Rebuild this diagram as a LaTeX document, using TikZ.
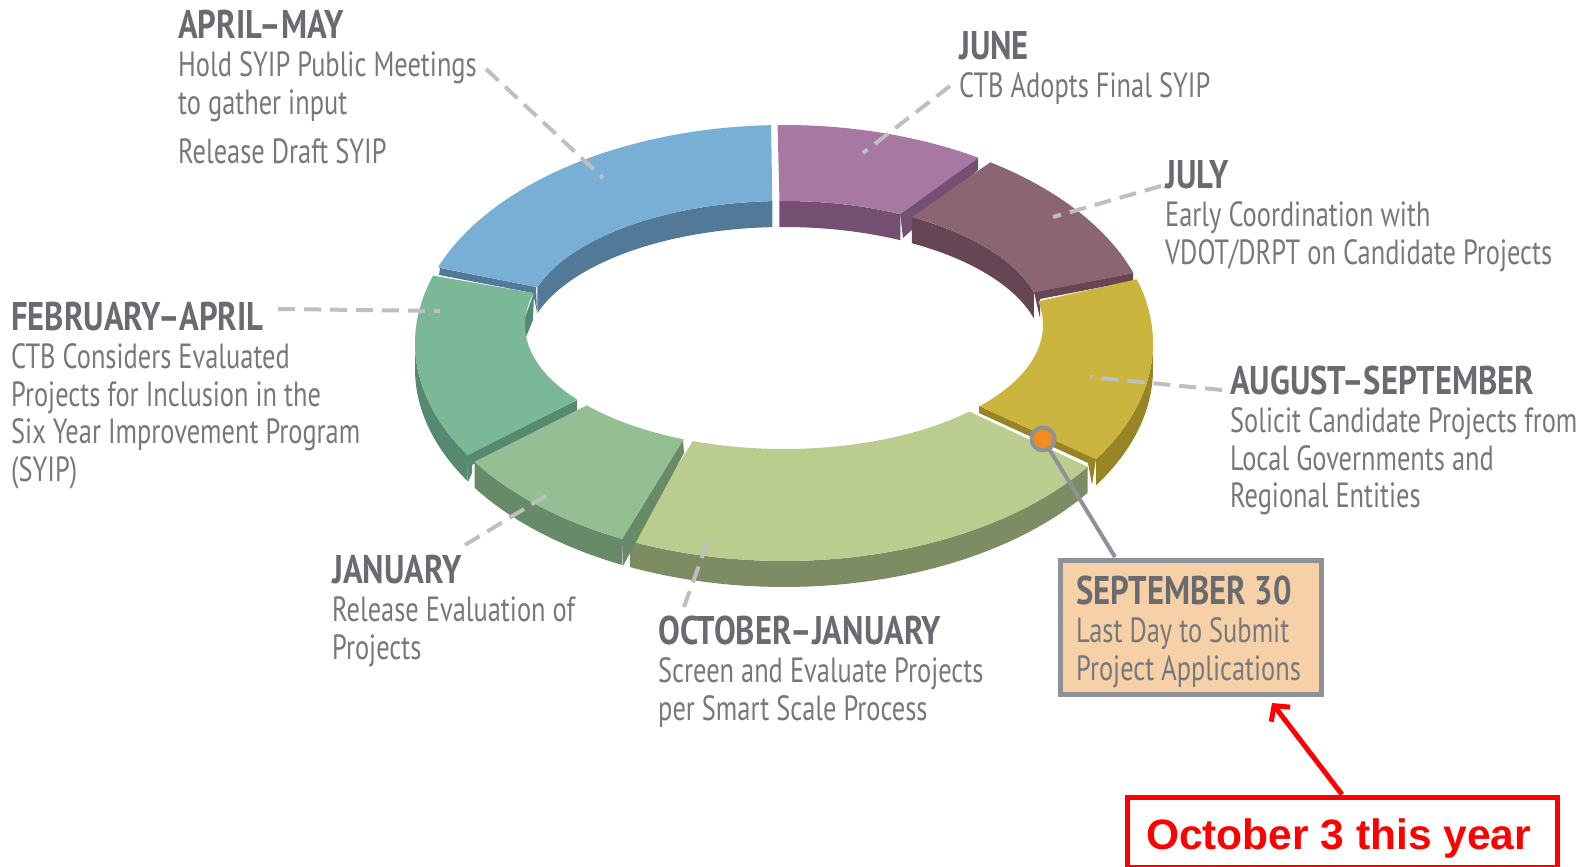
\documentclass[tikz,border=0pt]{standalone}
\usepackage{fontspec}
\usetikzlibrary{arrows.meta}
\newfontfamily\ptf[FakeStretch=0.755,BoldFeatures={FakeStretch=0.815}]{PT Sans}
\newfontfamily\redf{Liberation Sans}
\definecolor{bodyc}{HTML}{77787C}
\definecolor{headc}{HTML}{6A6B70}
\definecolor{leadc}{HTML}{BFBFBF}
\definecolor{edgec}{HTML}{8E9298}
\definecolor{dotc}{HTML}{F28C1E}
\definecolor{boxc}{HTML}{F6D0A6}
\definecolor{blueT}{HTML}{78B0D5}\definecolor{blueS}{HTML}{527A98}
\definecolor{purpT}{HTML}{A678A2}\definecolor{purpS}{HTML}{744F72}
\definecolor{marT}{HTML}{8B6672}\definecolor{marS}{HTML}{664654}
\definecolor{yelT}{HTML}{CBB53F}\definecolor{yelS}{HTML}{968426}
\definecolor{oliT}{HTML}{BBCC8F}\definecolor{oliS}{HTML}{7D8C63}
\definecolor{midT}{HTML}{93BF92}\definecolor{midS}{HTML}{678A69}
\definecolor{teaT}{HTML}{7AB898}\definecolor{teaS}{HTML}{558970}
\newcommand{\Hh}[1]{\rule{0pt}{32pt}\raisebox{0.5pt}{\color{headc}\bfseries\fontsize{40}{38}\selectfont #1}}
% ring faces: top surface and inner/outer walls, from angles on two ellipses
\newcommand{\topface}[5]{\fill[#1]
  plot[domain=#2:#3,samples=40] ({784+369*cos(\x)},{343+218*sin(\x)}) --
  plot[domain=#5:#4,samples=40] ({784+259*cos(\x)},{325+124*sin(\x)}) -- cycle;}
\newcommand{\innwall}[3]{\fill[#1]
  plot[domain=#2:#3,samples=40] ({784+259*cos(\x)},{325+124*sin(\x)}) --
  plot[domain=#3:#2,samples=40] ({784+259*cos(\x)},{351+124*sin(\x)}) -- cycle;}
\newcommand{\outwall}[3]{\fill[#1]
  plot[domain=#2:#3,samples=40] ({784+369*cos(\x)},{343+218*sin(\x)}) --
  plot[domain=#3:#2,samples=40] ({784+369*cos(\x)},{369+218*sin(\x)}) -- cycle;}
\tikzset{
  blockt/.style={anchor=north west,inner sep=0pt,align=left,text=bodyc,
    font=\ptf\fontsize{35}{37.5}\selectfont},
  leader/.style={draw=leadc,line width=4pt,dash pattern=on 17pt off 9pt}
}
\begin{document}
\begin{tikzpicture}[x=1pt,y=-1pt]
\useasboundingbox (0,0) rectangle (1593,867);
% --- blue
\innwall{blueS}{197.7}{267.4}
\fill[blueS] (440,268) -- (536,287) -- (537,312) -- (533,293) -- (439,275) -- cycle;
\topface{blueT}{200.3}{268}{197.7}{267.4}
% --- purple
\innwall{purpS}{269}{296.7}
\fill[purpS] (900,213) -- (978,158) -- (978,170) -- (903,238) -- cycle;
\topface{purpT}{269}{301.8}{269}{296.7}
% --- maroon
\innwall{marS}{299.6}{344.8}
\fill[marS] (1034,292) -- (1133,273) -- (1133,281) -- (1040,299) -- (1040,318) -- cycle;
\topface{marT}{304}{341.3}{299.6}{344.8}
% --- yellow
\outwall{yelS}{360}{392.2}
\fill[yelS] (979,406) -- (1096,459) -- (1092,485) -- (1088,463) -- (979,413) -- cycle;
\topface{yelT}{343}{392.2}{349}{400.9}
% --- olive
\outwall{oliS}{34.6}{114.7}
\topface{oliT}{34.6}{114.7}{44.3}{110.6}
% --- teal
\outwall{teaS}{149}{180}
\fill[teaS] (467,455) -- (577,400) -- (577,411) -- (472,465) -- (472,473) -- (468,482) -- cycle;
\fill[teaS] (534,293) -- (533,320) -- (524,342) -- (524,320) -- cycle;
\topface{teaT}{149}{198}{143}{194.9}
% --- mid green
\outwall{midS}{116}{147}
\fill[midS] (622,539) -- (683,440) -- (684,453) -- (623,566) -- cycle;
\topface{midT}{116}{147}{112.8}{139.6}
% --- leaders
\coordinate (aprA) at (486,69);  \coordinate (aprB) at (603,178);
\coordinate (junA) at (950,86);  \coordinate (junB) at (863,153);
\coordinate (julA) at (1161,186);\coordinate (julB) at (1053,217);
\coordinate (augA) at (1222,390);\coordinate (augB) at (1090,377);
\coordinate (febA) at (278,309); \coordinate (febB) at (440,311);
\coordinate (janA) at (465,545); \coordinate (janB) at (547,495);
\coordinate (octA) at (684,607); \coordinate (octB) at (710,535);
\draw[leader] (aprA) -- (aprB);
\draw[leader] (junA) -- (junB);
\draw[leader] (julA) -- (julB);
\draw[leader] (augA) -- (augB);
\draw[leader] (febA) -- (febB);
\draw[leader] (janA) -- (janB);
\draw[leader] (octA) -- (octB);
% --- text
\node[blockt] (apr) at (178,7) {\Hh{APRIL–MAY}\\Hold SYIP Public Meetings\\to gather input\\[12pt]Release Draft SYIP};
\node[blockt] (jun) at (959,28) {\Hh{JUNE}\\CTB Adopts Final SYIP};
\node[blockt] (jul) at (1165,157) {\Hh{JULY}\\Early Coordination with\\VDOT/DRPT on Candidate Projects};
\node[blockt] (aug) at (1230,363) {\Hh{AUGUST–SEPTEMBER}\\Solicit Candidate Projects from\\Local Governments and\\Regional Entities};
\node[blockt] (feb) at (11,299) {\Hh{FEBRUARY–APRIL}\\CTB Considers Evaluated\\Projects for Inclusion in the\\Six Year Improvement Program\\(SYIP)};
\node[blockt] (jan) at (332,552) {\Hh{JANUARY}\\Release Evaluation of\\Projects};
\node[blockt] (oct) at (658,613) {\Hh{OCTOBER–JANUARY}\\Screen and Evaluate Projects\\per Smart Scale Process};
% --- September callout
\coordinate (sepTop) at (1115,557);
\node[circle,draw=edgec,line width=4pt,fill=dotc,minimum size=23pt,inner sep=0pt] (dot) at (1043,439) {};
\draw[edgec,line width=4pt] (dot) -- (sepTop);
\node[draw=edgec,fill=boxc,line width=4.6pt,minimum width=261pt,minimum height=134.5pt,inner sep=0pt] (sepbox) at (1191,627.5) {};
\node[blockt] (sep) at (1076,573) {\Hh{SEPTEMBER 30}\\Last Day to Submit\\Project Applications};
% --- red note
\node[draw=red,line width=5pt,minimum width=430pt,inner sep=0pt,text height=52pt,text depth=18pt,text=red,font=\redf\bfseries\fontsize{42.5}{42.5}\selectfont] (note) at (1342,832) {October 3 this year\hspace*{7pt}};
\coordinate (noteTip) at (1272,703);
\draw[red,line width=5pt,-{Straight Barb[length=11pt,width=24pt]}] (note.north) -- (noteTip);
\end{tikzpicture}
\end{document}
